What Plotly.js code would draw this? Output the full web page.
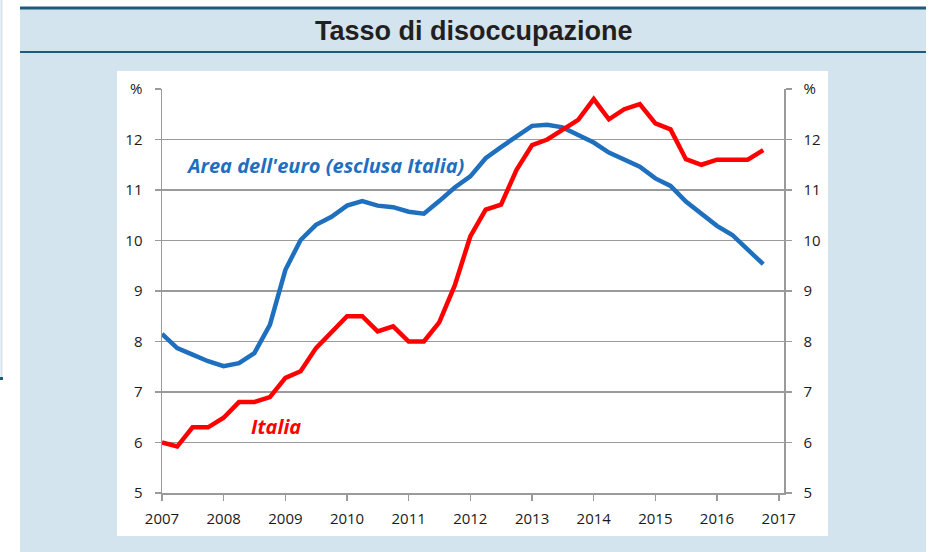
<!DOCTYPE html>
<html>
<head>
<meta charset="utf-8">
<script src="https://cdn.plot.ly/plotly-3.0.1.min.js"></script>
<style>html,body{margin:0;padding:0;background:#fff;}#chart{width:930px;height:552px;}</style>
</head>
<body>
<div id="chart"></div>
<script>
// Quarterly observations, 2007Q1 - 2016Q4
const quarters = [
  '2007-01-01','2007-04-01','2007-07-01','2007-10-01',
  '2008-01-01','2008-04-01','2008-07-01','2008-10-01',
  '2009-01-01','2009-04-01','2009-07-01','2009-10-01',
  '2010-01-01','2010-04-01','2010-07-01','2010-10-01',
  '2011-01-01','2011-04-01','2011-07-01','2011-10-01',
  '2012-01-01','2012-04-01','2012-07-01','2012-10-01',
  '2013-01-01','2013-04-01','2013-07-01','2013-10-01',
  '2014-01-01','2014-04-01','2014-07-01','2014-10-01',
  '2015-01-01','2015-04-01','2015-07-01','2015-10-01',
  '2016-01-01','2016-04-01','2016-07-01','2016-10-01'
];
// Area dell'euro (esclusa Italia)
const euroAreaExItaly = [
  8.15, 7.87, 7.74, 7.61, 7.51, 7.57, 7.77, 8.33,
  9.42, 10.01, 10.31, 10.47, 10.69, 10.78, 10.69, 10.66,
  10.57, 10.53, 10.78, 11.05, 11.27, 11.63, 11.85, 12.06,
  12.27, 12.29, 12.24, 12.09, 11.94, 11.74, 11.60, 11.46,
  11.23, 11.08, 10.77, 10.52, 10.29, 10.11, 9.82, 9.53
];
// Italia
const italy = [
  6.00, 5.92, 6.30, 6.30, 6.49, 6.80, 6.80, 6.90,
  7.28, 7.41, 7.87, 8.17, 8.50, 8.50, 8.20, 8.30,
  8.00, 8.00, 8.38, 9.11, 10.08, 10.61, 10.71, 11.40,
  11.89, 12.00, 12.19, 12.39, 12.80, 12.40, 12.60, 12.70,
  12.32, 12.20, 11.61, 11.50, 11.60, 11.60, 11.60, 11.79
];
const yearTicks = ['2007','2008','2009','2010','2011','2012','2013','2014','2015','2016','2017'];
const yTickVals = [5, 6, 7, 8, 9, 10, 11, 12, 13];
const yTickText = ['5', '6', '7', '8', '9', '10', '11', '12', '%'];

const W = 930, H = 552;
const M = {l: 162, r: 146, t: 89, b: 59};
const PW = W - M.l - M.r, PH = H - M.t - M.b;
const px = x => (x - M.l) / PW;
const py = y => (H - M.b - y) / PH;

const gridCol = '#9a9a9a';
const tickFont = {family: 'Open Sans, Liberation Sans, sans-serif', size: 15, color: '#1a1a1a'};

const yCommon = {
  range: [5, 13], tickvals: yTickVals, ticktext: yTickText,
  ticks: 'outside', ticklen: 6, tickwidth: 1.5, tickcolor: gridCol,
  showline: true, linecolor: gridCol, linewidth: 1.5,
  zeroline: false, tickfont: tickFont, fixedrange: true,
  ticklabelstandoff: 9
};

const data = [
  {x: quarters, y: euroAreaExItaly, type: 'scatter', mode: 'lines', name: "Area dell'euro (esclusa Italia)",
   line: {color: '#1f6fbf', width: 4.5}, xaxis: 'x', yaxis: 'y'},
  {x: quarters, y: italy, type: 'scatter', mode: 'lines', name: 'Italia',
   line: {color: '#ff0000', width: 4.5}, xaxis: 'x', yaxis: 'y2'}
];

const layout = {
  width: W, height: H,
  margin: M,
  paper_bgcolor: '#ffffff', plot_bgcolor: '#ffffff',
  showlegend: false,
  xaxis: {
    type: 'date', range: ['2007-01-01', '2017-02-01'],
    tickvals: yearTicks.map(y => y + '-01-01'), ticktext: yearTicks,
    ticks: 'outside', ticklen: 6, tickwidth: 1.5, tickcolor: gridCol,
    showline: true, linecolor: gridCol, linewidth: 1.5, showgrid: false,
    zeroline: false, tickfont: tickFont, fixedrange: true,
    ticklabelstandoff: 5
  },
  yaxis: Object.assign({}, yCommon, {side: 'left', showgrid: true, gridcolor: gridCol, gridwidth: 1.6}),
  yaxis2: Object.assign({}, yCommon, {side: 'right', overlaying: 'y', showgrid: false}),
  shapes: [
    {type: 'rect', xref: 'paper', yref: 'paper', layer: 'below', x0: px(20), x1: px(926), y0: py(7), y1: py(560),
     fillcolor: '#d4e4ee', line: {width: 0}},
    {type: 'line', xref: 'paper', yref: 'paper', layer: 'below', x0: px(20), x1: px(926), y0: py(8), y1: py(8),
     line: {color: '#1d5b7d', width: 3}},
    {type: 'line', xref: 'paper', yref: 'paper', layer: 'below', x0: px(20), x1: px(926), y0: py(52), y1: py(52),
     line: {color: '#1d5b7d', width: 2}},
    {type: 'rect', xref: 'paper', yref: 'paper', layer: 'below', x0: px(117), x1: px(828), y0: py(71), y1: py(536),
     fillcolor: '#ffffff', line: {width: 0}},
    {type: 'line', xref: 'paper', yref: 'paper', layer: 'below', x0: px(1.5), x1: px(1.5), y0: py(0), y1: py(378),
     line: {color: '#d4e4ee', width: 2}},
    {type: 'rect', xref: 'paper', yref: 'paper', layer: 'below', x0: px(0), x1: px(3), y0: py(377), y1: py(380),
     fillcolor: '#1d5b7d', line: {width: 0}}
  ],
  annotations: [
    {text: 'Tasso di disoccupazione', xref: 'paper', yref: 'paper', x: px(474), y: py(31),
     xanchor: 'center', yanchor: 'middle', showarrow: false,
     font: {family: 'Liberation Sans, Arial, sans-serif', size: 27, weight: 700, color: '#231f20'}},
    {text: "Area dell'euro (esclusa Italia)", xref: 'paper', yref: 'paper', x: px(184), y: py(166),
     xanchor: 'left', yanchor: 'middle', showarrow: false,
     font: {family: 'Open Sans, sans-serif', size: 20, weight: 700, style: 'italic', color: '#1f6fc0'}},
    {text: 'Italia', xref: 'paper', yref: 'paper', x: px(249), y: py(426),
     xanchor: 'left', yanchor: 'middle', showarrow: false,
     font: {family: 'Open Sans, sans-serif', size: 20, weight: 700, style: 'italic', color: '#ff0000'}}
  ]
};

Plotly.newPlot('chart', data, layout, {displayModeBar: false, staticPlot: true});
</script>
</body>
</html>
